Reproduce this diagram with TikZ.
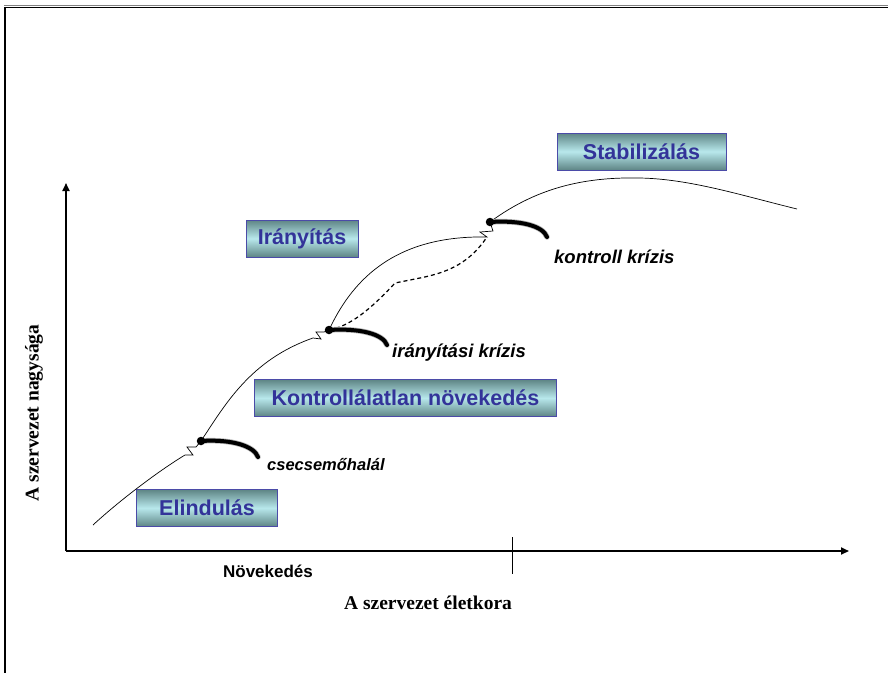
\documentclass[tikz,border=0pt]{standalone}
\usepackage{fontspec}
\setmainfont{Liberation Serif}
\setsansfont{Liberation Sans}
\usetikzlibrary{arrows.meta}
\definecolor{boxtxt}{HTML}{333399}
\definecolor{boxedge}{HTML}{4B4BA8}
\definecolor{boxdark}{HTML}{5E8585}
\definecolor{boxlight}{HTML}{B8E8EC}
\tikzset{
  phasebox/.style={draw=boxedge, line width=0.9pt, top color=boxdark, bottom color=boxdark, middle color=boxlight,
    text=boxtxt, font=\sffamily\bfseries\fontsize{21.5}{25}\selectfont, minimum height=37pt, inner sep=0pt},
  crisislbl/.style={font=\sffamily\bfseries\itshape\fontsize{18.5}{22}\selectfont, anchor=west, inner sep=0pt},
  axisline/.style={line width=1.8pt, -{Triangle[length=8pt,width=7pt]}},
  growth/.style={line width=0.7pt},
  thickcurve/.style={line width=4pt, line cap=round},
  halo/.style={gray!60, line width=5.5pt, line cap=round},
  dotmark/.style={circle, fill=black, inner sep=0pt, minimum size=8.5pt}
}
\begin{document}
\begin{tikzpicture}[x=1pt,y=-1pt]
\useasboundingbox (0,0) rectangle (888,673);
% frame
\draw[gray, line width=1pt] (4,5.5) -- (888,5.5);
\draw[line width=1.5pt] (4,7.5) -- (888,7.5);
\draw[line width=1.5pt] (5,7) -- (5,673);
% axes
\coordinate (o) at (66,551);
\coordinate (ytop) at (66,183);
\coordinate (xend) at (849,551);
\coordinate (tick1) at (512,537);
\coordinate (tick2) at (512,574);
\draw[axisline] (o) -- (ytop);
\draw[axisline] (o) -- (xend);
\draw[line width=0.8pt] (tick1) -- (tick2);
\node[font=\sffamily\bfseries\fontsize{17}{20}\selectfont] (nov) at (268,571) {Növekedés};
\node[font=\bfseries\fontsize{19.5}{22}\selectfont] (xlab) at (428,603) {A szervezet életkora};
\node[font=\bfseries\fontsize{19.5}{22}\selectfont, rotate=90] (ylab) at (34,413) {A szervezet nagysága};
% boxes
\node[phasebox, minimum width=169pt] (stab) at (641.5,151.5) {Stabilizálás};
\node[phasebox, minimum width=112pt] (iran) at (302,238.5) {Irányítás};
\node[phasebox, minimum width=302pt] (kontr) at (405.5,398) {Kontrollálatlan növekedés};
\node[phasebox, minimum width=141pt] (elind) at (207,508) {Elindulás};
% anchor points
\coordinate (d1) at (201,441);
\coordinate (d2) at (329,330);
\coordinate (d3) at (490,222);
\coordinate (s0) at (93,525);
\coordinate (e1) at (258,457);
\coordinate (e2) at (387,345);
\coordinate (e3) at (547,237);
\coordinate (pend) at (797,209);
% growth line
\draw[growth] (s0) .. controls (120,500) and (160,470) .. (185,455) -- (193,455) -- (187,447) -- (196,447) -- (d1);
\draw[growth] (d1) .. controls (225,405) and (250,360) .. (313,338) -- (321,339) -- (316,332) -- (324,332) -- (d2);
\draw[growth] (d2) .. controls (350,285) and (390,235) .. (487,237) -- (480,232) -- (493,231) -- (d3);
\draw[growth, dashed, line width=1.2pt, dash pattern=on 4pt off 3pt] (d2) .. controls (350,326) and (370,310) .. (395,283) -- (420,278) .. controls (450,272) and (470,262) .. (487,237);
\draw[growth] (d3) .. controls (540,185) and (590,177) .. (640,178) .. controls (690,179) and (740,195) .. (pend);
% crisis curves
\draw[halo] (d1) .. controls (232,439) and (254,446) .. (e1);
\draw[thickcurve] (d1) .. controls (232,439) and (254,446) .. (e1);
\draw[halo] (d2) .. controls (360,328) and (383,334) .. (e2);
\draw[thickcurve] (d2) .. controls (360,328) and (383,334) .. (e2);
\draw[halo] (d3) .. controls (521,220) and (543,226) .. (e3);
\draw[thickcurve] (d3) .. controls (521,220) and (543,226) .. (e3);
% dots
\node[dotmark] (n1) at (d1) {};
\node[dotmark] (n2) at (d2) {};
\node[dotmark] (n3) at (d3) {};
% labels
\node[crisislbl] (k3) at (554,257) {kontroll krízis};
\node[crisislbl] (k2) at (392,353) {irányítási krízis};
\node[crisislbl, font=\sffamily\bfseries\itshape\fontsize{16.5}{20}\selectfont] (k1) at (267,465) {csecsemőhalál};
\end{tikzpicture}
\end{document}
